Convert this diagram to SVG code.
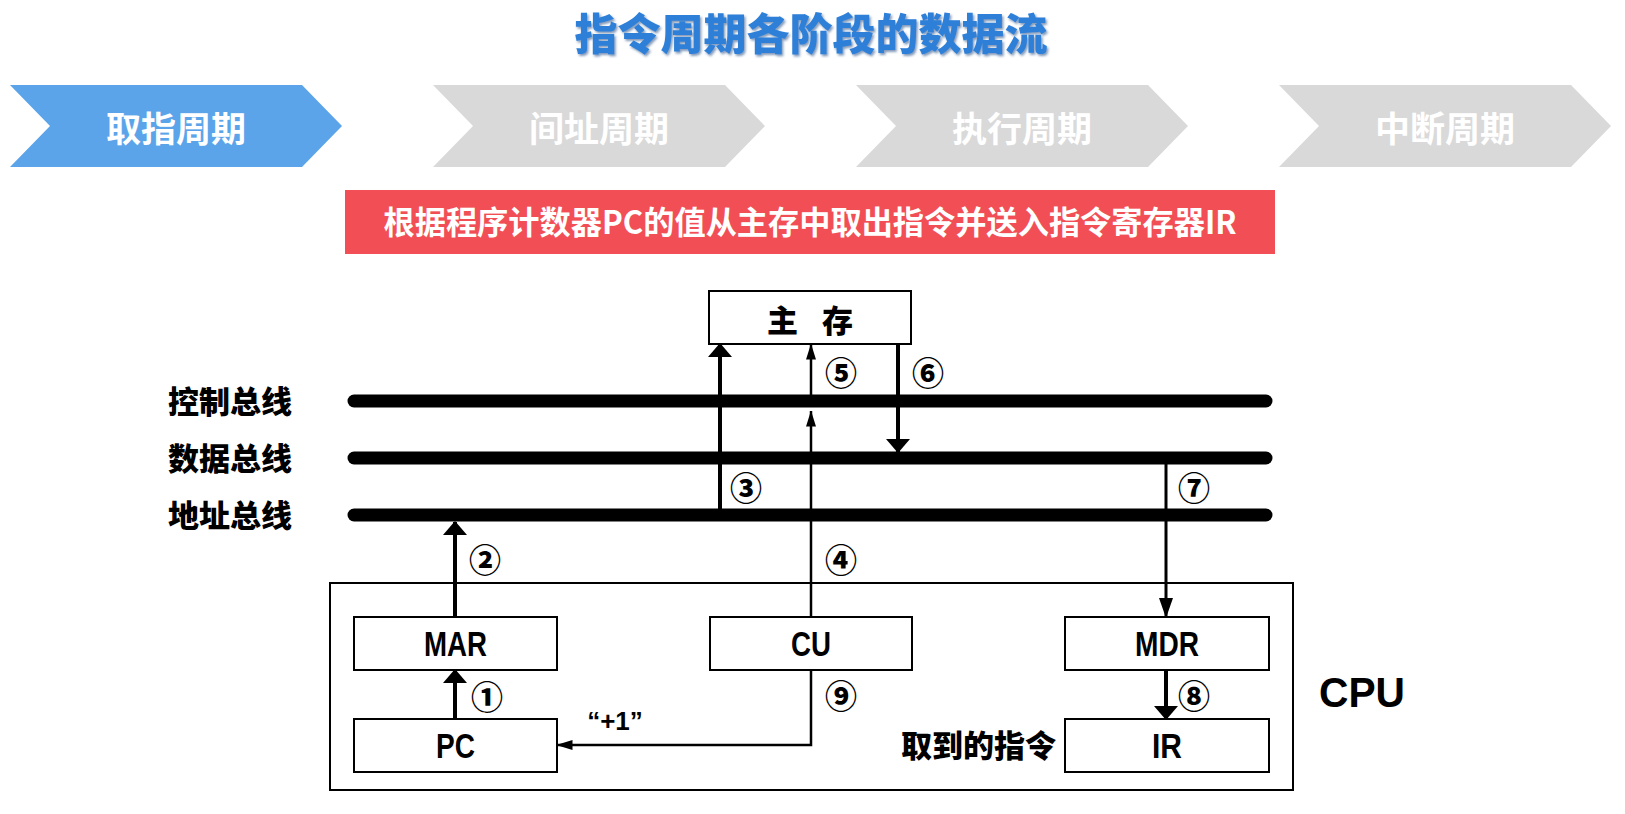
<svg xmlns="http://www.w3.org/2000/svg" width="1625" height="814" viewBox="0 0 1625 814">
  <defs>
    <filter id="titleShadow" x="-5%" y="-20%" width="110%" height="150%">
      <feDropShadow dx="1.5" dy="2" stdDeviation="1" flood-color="#1b4a80" flood-opacity="0.55"/>
    </filter>
    <marker id="headBig" viewBox="0 0 14 24" refX="13" refY="12" markerWidth="14" markerHeight="24" markerUnits="userSpaceOnUse" orient="auto">
      <path d="M0,0 L14,12 L0,24 Z" fill="#000"/>
    </marker>
    <marker id="headMid" viewBox="0 0 20 14" refX="19" refY="7" markerWidth="20" markerHeight="14" markerUnits="userSpaceOnUse" orient="auto">
      <path d="M0,0 L20,7 L0,14 Z" fill="#000"/>
    </marker>
    <marker id="headThin" viewBox="0 0 16 10" refX="15.5" refY="5" markerWidth="16" markerHeight="10" markerUnits="userSpaceOnUse" orient="auto">
      <path d="M0,0 L16,5 L0,10 Z" fill="#000"/>
    </marker>
    <style>
      .cjk { font-family: "Noto Sans CJK SC", "Noto Sans", sans-serif; font-weight: bold; }
      .heavy { font-weight: 900; }
      .lat { font-family: "Liberation Sans", Arial, sans-serif; font-weight: bold; }
      .title { fill: #2E7FD8; font-size: 43px; }
      .stage { fill: #ffffff; font-size: 35px; }
      .chev-on { fill: #5BA4EA; }
      .chev-off { fill: #D9D9D9; }
      .box { fill: #ffffff; stroke: #000; stroke-width: 2; }
      .bus { stroke: #000; stroke-width: 13; stroke-linecap: round; }
      .thick { fill: none; stroke: #000; stroke-width: 4; }
      .mid { fill: none; stroke: #000; stroke-width: 3; }
      .thin { fill: none; stroke: #000; stroke-width: 2.5; }
      .reg { font-size: 35px; fill: #000; }
      .lbl { font-size: 31px; fill: #000; }
      .num { font-size: 32px; fill: #000; font-weight: 900; }
    </style>
  </defs>

  <!-- heading -->
  <text class="cjk heavy title" x="811" y="50" text-anchor="middle" filter="url(#titleShadow)">指令周期各阶段的数据流</text>

  <!-- stage chevrons -->
  <g id="stage-fetch">
    <path class="chev-on" d="M10,85 L302,85 L342,126 L302,167 L10,167 L50,126 Z"/>
    <text class="cjk stage" x="176" y="142" text-anchor="middle">取指周期</text>
  </g>
  <g id="stage-indirect">
    <path class="chev-off" d="M433,85 L725,85 L765,126 L725,167 L433,167 L473,126 Z"/>
    <text class="cjk stage" x="599" y="142" text-anchor="middle">间址周期</text>
  </g>
  <g id="stage-execute">
    <path class="chev-off" d="M856,85 L1148,85 L1188,126 L1148,167 L856,167 L896,126 Z"/>
    <text class="cjk stage" x="1022" y="142" text-anchor="middle">执行周期</text>
  </g>
  <g id="stage-interrupt">
    <path class="chev-off" d="M1279,85 L1571,85 L1611,126 L1571,167 L1279,167 L1319,126 Z"/>
    <text class="cjk stage" x="1445" y="142" text-anchor="middle">中断周期</text>
  </g>

  <!-- description banner -->
  <g id="banner">
    <rect x="345" y="190" width="930" height="64" fill="#F24E56"/>
    <text class="cjk" x="810" y="234" text-anchor="middle" font-size="32" fill="#ffffff" textLength="853" lengthAdjust="spacingAndGlyphs">根据程序计数器PC的值从主存中取出指令并送入指令寄存器IR</text>
  </g>

  <!-- buses -->
  <g id="buses">
    <line class="bus" x1="354" y1="401" x2="1266" y2="401"/>
    <line class="bus" x1="354" y1="458" x2="1266" y2="458"/>
    <line class="bus" x1="354" y1="515" x2="1266" y2="515"/>
    <text class="cjk heavy lbl" x="292" y="413" text-anchor="end">控制总线</text>
    <text class="cjk heavy lbl" x="292" y="470" text-anchor="end">数据总线</text>
    <text class="cjk heavy lbl" x="292" y="527" text-anchor="end">地址总线</text>
  </g>

  <!-- main memory -->
  <g id="memory">
    <rect class="box" x="709" y="291" width="202" height="53"/>
    <text class="cjk heavy" x="810" y="332" text-anchor="middle" font-size="31" textLength="86">主 存</text>
  </g>

  <!-- CPU and its registers -->
  <g id="cpu">
    <rect x="330" y="583" width="963" height="207" fill="none" stroke="#000" stroke-width="2"/>
    <text class="lat" x="1319" y="707" font-size="42" textLength="86" lengthAdjust="spacingAndGlyphs">CPU</text>
  </g>
  <g id="mar">
    <rect class="box" x="354" y="617" width="203" height="53"/>
    <text class="lat reg" x="455.5" y="656" text-anchor="middle" textLength="63" lengthAdjust="spacingAndGlyphs">MAR</text>
  </g>
  <g id="cu">
    <rect class="box" x="710" y="617" width="202" height="53"/>
    <text class="lat reg" x="811" y="656" text-anchor="middle" textLength="40" lengthAdjust="spacingAndGlyphs">CU</text>
  </g>
  <g id="mdr">
    <rect class="box" x="1065" y="617" width="204" height="53"/>
    <text class="lat reg" x="1167" y="656" text-anchor="middle" textLength="64" lengthAdjust="spacingAndGlyphs">MDR</text>
  </g>
  <g id="pc">
    <rect class="box" x="354" y="719" width="203" height="53"/>
    <text class="lat reg" x="455.5" y="758" text-anchor="middle" textLength="39" lengthAdjust="spacingAndGlyphs">PC</text>
  </g>
  <g id="ir">
    <rect class="box" x="1065" y="719" width="204" height="53"/>
    <text class="lat reg" x="1167" y="758" text-anchor="middle" textLength="30" lengthAdjust="spacingAndGlyphs">IR</text>
    <text class="cjk heavy lbl" x="1056" y="757" text-anchor="end">取到的指令</text>
  </g>

  <!-- data flow connectors -->
  <g id="connectors">
    <!-- 1: PC -> MAR -->
    <line class="thick" x1="455" y1="719" x2="455" y2="670" marker-end="url(#headBig)"/>
    <!-- 2: MAR -> address bus -->
    <line class="thick" x1="455" y1="617" x2="455" y2="522" marker-end="url(#headBig)"/>
    <!-- 3: address bus -> memory -->
    <line class="thick" x1="720" y1="515" x2="720" y2="344" marker-end="url(#headBig)"/>
    <!-- 4: CU -> control bus -->
    <line class="thin" x1="811" y1="617" x2="811" y2="411" marker-end="url(#headThin)"/>
    <!-- 5: control bus -> memory -->
    <line class="thin" x1="811" y1="401" x2="811" y2="344" marker-end="url(#headThin)"/>
    <!-- 6: memory -> data bus -->
    <line class="thick" x1="898" y1="344" x2="898" y2="452" marker-end="url(#headBig)"/>
    <!-- 7: data bus -> MDR -->
    <line class="mid" x1="1166" y1="458" x2="1166" y2="617" marker-end="url(#headMid)"/>
    <!-- 8: MDR -> IR -->
    <line class="thick" x1="1166" y1="670" x2="1166" y2="719" marker-end="url(#headBig)"/>
    <!-- 9: CU -> PC increment -->
    <polyline class="thin" points="811,670 811,745 557,745" marker-end="url(#headThin)"/>
  </g>

  <!-- step numbers -->
  <g id="steps">
    <text class="cjk num" x="487" y="709" text-anchor="middle">①</text>
    <text class="cjk num" x="485" y="572" text-anchor="middle">②</text>
    <text class="cjk num" x="746" y="500" text-anchor="middle">③</text>
    <text class="cjk num" x="841" y="572" text-anchor="middle">④</text>
    <text class="cjk num" x="841" y="385" text-anchor="middle">⑤</text>
    <text class="cjk num" x="928" y="385" text-anchor="middle">⑥</text>
    <text class="cjk num" x="1194" y="500" text-anchor="middle">⑦</text>
    <text class="cjk num" x="1194" y="708" text-anchor="middle">⑧</text>
    <text class="cjk num" x="841" y="708" text-anchor="middle">⑨</text>
    <text class="lat" x="615" y="730" text-anchor="middle" font-size="26">“+1”</text>
  </g>
</svg>
